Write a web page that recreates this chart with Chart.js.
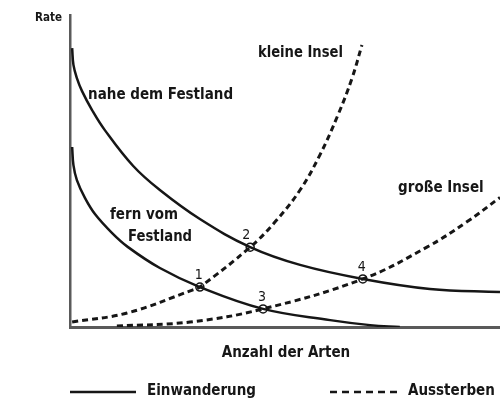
<!DOCTYPE html>
<html>
<head>
<meta charset="utf-8">
<script src="https://cdn.jsdelivr.net/npm/chart.js@4"></script>
<style>
  html, body { margin: 0; padding: 0; background: #fff; }
  #wrap { width: 500px; height: 404px; position: relative; }
</style>
</head>
<body>
<div id="wrap"><canvas id="chart"></canvas></div>
<script>
// curves, x = Anzahl der Arten, y = Rate (both 0..100)
const naheX = [0.5, 0.8, 1.6, 2.8, 5.1, 8.1, 14.7, 20.9, 30.2, 41.9, 53.5, 68.1, 83.7, 100];
const naheY = [89.4, 84.0, 79.8, 75.6, 69.6, 63.1, 51.6, 43.9, 34.6, 25.6, 19.9, 15.4, 12.2, 11.2];

const fernX = [0.5, 0.8, 1.6, 3.5, 5.8, 9.8, 13.5, 20.9, 30.2, 44.9, 60.5, 69.8, 76.7];
const fernY = [57.7, 51.9, 47.1, 41.3, 36.2, 30.1, 25.6, 18.9, 12.8, 5.8, 2.2, 0.6, 0];

const kleinX = [0.5, 13.3, 28.6, 30.2, 41.9, 47.7, 53.5, 58.1, 62.3, 65.6, 67.9];
const kleinY = [1.6, 4.5, 11.9, 12.8, 25.6, 33.7, 43.9, 55.1, 67.9, 79.8, 90.4];

const grossX = [10.9, 27.9, 44.9, 68.1, 83.0, 92.3, 100];
const grossY = [0.3, 1.6, 5.8, 15.4, 25.6, 33.7, 41.5];

// equilibrium points
const pointNames = ["1", "2", "3", "4"];
const pointX = [30.2, 41.9, 44.9, 68.1];
const pointY = [12.8, 25.6, 5.8, 15.4];

const curveLabels = ["nahe dem Festland", "kleine Insel", "große Insel", "fern vom", "Festland"];
const legendLabels = ["Einwanderung", "Aussterben"];
const xTitle = "Anzahl der Arten";
const yTitle = "Rate";

function toPts(xs, ys){
    return xs.map((x, i) => ({x: x, y: ys[i]}));
}

const ink = '#161616';
const FONT = '"DejaVu Sans Condensed", "DejaVu Sans", sans-serif';

function curve(xs, ys, dashed){
    return {
        data: toPts(xs, ys),
        borderColor: ink,
        borderWidth: dashed ? 3 : 2.5,
        borderDash: dashed ? [6, 4] : [],
        pointRadius: 0,
        fill: false,
        tension: 0.4
    };
}

// texts and legend drawn on top of the chart
const textPlugin = {
    id: 'texts',
    afterDraw(chart){
        const ctx = chart.ctx;
        const xs = chart.scales.x, ys = chart.scales.y;
        const area = chart.chartArea;
        ctx.save();
        ctx.fillStyle = ink;
        ctx.textBaseline = 'middle';

        // curve labels: [text, x, y, maxWidth]
        const spots = [
            [curveLabels[0], 4.2, 74.4, 149],
            [curveLabels[1], 43.7, 87.8, 85],
            [curveLabels[2], 76.3, 44.6, 87],
            [curveLabels[3], 9.3, 35.9, 68],
            [curveLabels[4], 13.5, 28.8, 64]
        ];
        ctx.font = 'bold 15px ' + FONT;
        ctx.textAlign = 'left';
        for(const s of spots){
            ctx.fillText(s[0], xs.getPixelForValue(s[1]), ys.getPixelForValue(s[2]), s[3]);
        }

        // numbers above the points
        ctx.font = '14px ' + FONT;
        ctx.textAlign = 'center';
        for(let i = 0; i < pointNames.length; i++){
            const px = xs.getPixelForValue(pointX[i]) - (i == 1 ? 4 : 1);
            const py = ys.getPixelForValue(pointY[i]) - 12;
            ctx.fillText(pointNames[i], px, py);
        }

        // axis titles
        ctx.font = 'bold 12px ' + FONT;
        ctx.textAlign = 'right';
        ctx.fillText(yTitle, area.left - 8, area.top + 3, 27);
        ctx.font = 'bold 15px ' + FONT;
        ctx.textAlign = 'center';
        ctx.fillText(xTitle, 286, area.bottom + 26, 132);

        // legend
        const ly = area.bottom + 65;
        ctx.strokeStyle = ink;
        ctx.lineWidth = 2.5;
        ctx.beginPath();
        ctx.moveTo(70, ly); ctx.lineTo(136, ly);
        ctx.stroke();
        ctx.setLineDash([7, 5]);
        ctx.beginPath();
        ctx.moveTo(330, ly); ctx.lineTo(397, ly);
        ctx.stroke();
        ctx.setLineDash([]);
        ctx.textAlign = 'left';
        ctx.fillText(legendLabels[0], 147, ly - 1, 113);
        ctx.fillText(legendLabels[1], 408, ly - 1, 89);
        ctx.restore();
    }
};

new Chart(document.getElementById('chart'), {
    type: 'line',
    data: {
        datasets: [
            curve(naheX, naheY, false),
            curve(fernX, fernY, false),
            curve(kleinX, kleinY, true),
            curve(grossX, grossY, true),
            {
                data: toPts(pointX, pointY),
                showLine: false,
                pointRadius: 4,
                pointBorderWidth: 1.5,
                pointBackgroundColor: '#fff',
                pointBorderColor: ink
            }
        ]
    },
    options: {
        responsive: true,
        maintainAspectRatio: false,
        animation: false,
        layout: { autoPadding: false, padding: { left: 70, right: 0, top: 15, bottom: 77 } },
        scales: {
            x: {
                type: 'linear', min: 0, max: 100,
                ticks: { display: false },
                grid: { display: false, drawTicks: false },
                border: { display: true, color: '#5a5a5a', width: 3 }
            },
            y: {
                type: 'linear', min: 0, max: 100,
                ticks: { display: false },
                grid: { display: false, drawTicks: false },
                border: { display: true, color: '#5a5a5a', width: 2.5 }
            }
        },
        plugins: {
            legend: { display: false },
            tooltip: { enabled: false }
        }
    },
    plugins: [textPlugin]
});
</script>
</body>
</html>
